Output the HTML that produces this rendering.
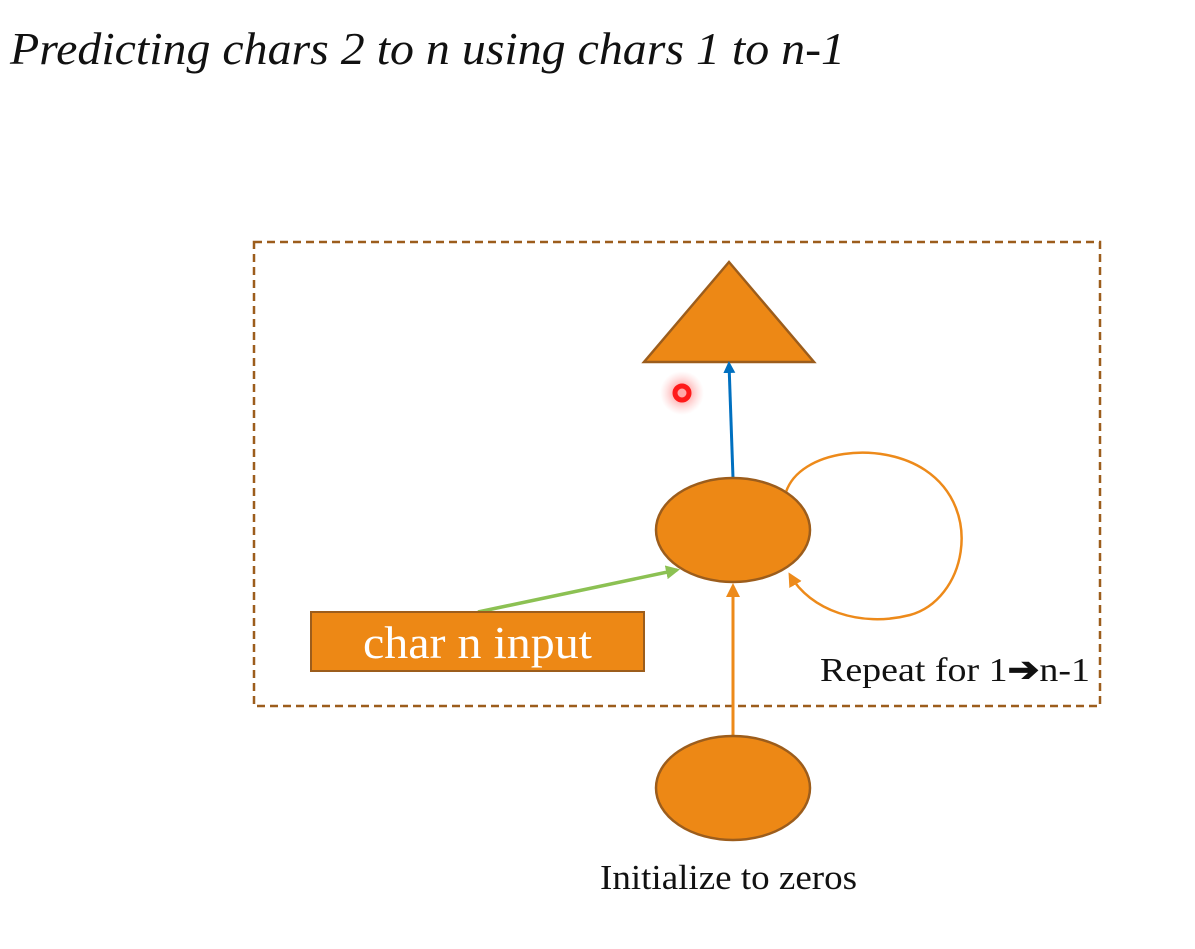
<!DOCTYPE html>
<html><head><style>
body{margin:0;width:1195px;height:949px;background:#fff;overflow:hidden;position:relative}
svg{position:absolute;left:0;top:0}
</style></head><body>
<svg width="1195" height="949" viewBox="0 0 1195 949">
<defs>
<marker id="ab" markerWidth="12" markerHeight="12" refX="9" refY="6" orient="auto" markerUnits="userSpaceOnUse"><path d="M0,0 L12,6 L0,12z" fill="#0070c0"/></marker>
<marker id="ao" markerWidth="14" markerHeight="14" refX="11" refY="7" orient="auto" markerUnits="userSpaceOnUse"><path d="M0,0 L14,7 L0,14z" fill="#ed8a1a"/></marker>
<marker id="ag" markerWidth="14" markerHeight="14" refX="11" refY="7" orient="auto" markerUnits="userSpaceOnUse"><path d="M0,0 L14,7 L0,14z" fill="#8cc153"/></marker>
<radialGradient id="rg"><stop offset="0.3" stop-color="#ff4040" stop-opacity="0.45"/><stop offset="1" stop-color="#ff9090" stop-opacity="0"/></radialGradient>
</defs>
<text x="10" y="64" font-family="Liberation Serif, serif" font-style="italic" font-size="46" fill="#111" textLength="835" lengthAdjust="spacingAndGlyphs">Predicting chars 2 to n using chars 1 to n-1</text>
<rect x="254" y="242" width="846" height="464" fill="none" stroke="#9c5d1c" stroke-width="2.5" stroke-dasharray="8,5"/>
<polygon points="729,262 814,362 644,362" fill="#ed8815" stroke="#9c5d1c" stroke-width="2.5"/>
<line x1="733" y1="478" x2="729" y2="364" stroke="#0070c0" stroke-width="3" marker-end="url(#ab)"/>
<circle cx="682" cy="393" r="22" fill="url(#rg)"/>
<circle cx="682" cy="393" r="7" fill="none" stroke="#ff1a1a" stroke-width="5"/>
<path d="M786,492 C800,450 880,440 925,470 C985,510 965,600 910,615 C860,628 810,610 790,575" fill="none" stroke="#ed8a1a" stroke-width="2.5" marker-end="url(#ao)"/>
<ellipse cx="733" cy="530" rx="77" ry="52" fill="#ed8815" stroke="#9c5d1c" stroke-width="2.5"/>
<line x1="478" y1="612" x2="677" y2="570" stroke="#8cc153" stroke-width="3.5" marker-end="url(#ag)"/>
<line x1="733" y1="737" x2="733" y2="586" stroke="#ed8a1a" stroke-width="3" marker-end="url(#ao)"/>
<rect x="311" y="612" width="333" height="59" fill="#ed8815" stroke="#9c5d1c" stroke-width="2"/>
<text x="363" y="658" font-family="Liberation Serif, serif" font-size="46" fill="#fff" textLength="229" lengthAdjust="spacingAndGlyphs">char n input</text>
<text x="820" y="681" font-family="Liberation Serif, serif" font-size="34" fill="#111" textLength="270" lengthAdjust="spacingAndGlyphs">Repeat for 1<tspan font-weight="bold">➔</tspan>n-1</text>
<ellipse cx="733" cy="788" rx="77" ry="52" fill="#ed8815" stroke="#9c5d1c" stroke-width="2.5"/>
<text x="600" y="889" font-family="Liberation Serif, serif" font-size="35" fill="#111" textLength="257" lengthAdjust="spacingAndGlyphs">Initialize to zeros</text>
</svg>
</body></html>
